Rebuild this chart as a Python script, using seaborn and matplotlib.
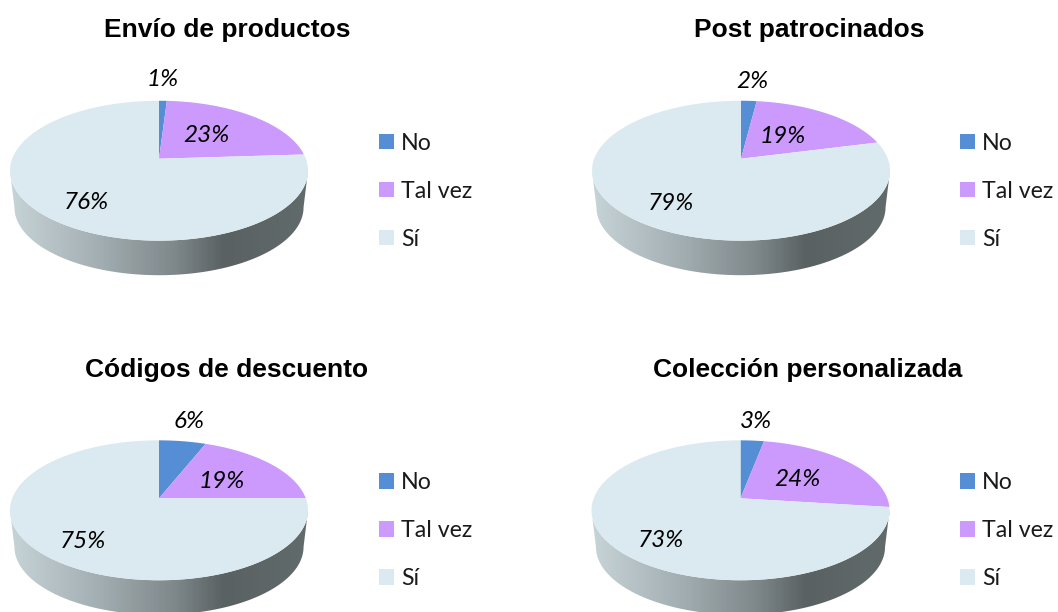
import numpy as np
import seaborn as sns
from matplotlib import pyplot as plt
from matplotlib.colors import LinearSegmentedColormap
from matplotlib.patches import Polygon
from matplotlib.transforms import Affine2D

FIG_W, FIG_H = 1058, 612

titles = ['Envío de productos', 'Post patrocinados',
          'Códigos de descuento', 'Colección personalizada']
categories = ['No', 'Tal vez', 'Sí']
envio = [1, 23, 76]
post = [2, 19, 79]
codigos = [6, 19, 75]
coleccion = [3, 24, 73]

colors = ['#558ed5', '#cc99fd', '#dbeaf0']

# layout in reference pixels
centers = [(159, 158.7), (741, 158.7), (159, 498.3), (740.5, 498.3)]
title_pos = [(227, 30), (809, 30), (227, 370), (808, 370)]
legend_x = [379, 960, 379, 960]
label_pos = [
    [(163, 80), (206, 135.5), (86, 202.5)],
    [(752, 81), (783, 136.5), (671, 203.5)],
    [(189, 422), (222, 481.5), (83, 541.5)],
    [(756, 422), (797, 479.5), (661, 540.5)],
]

# tilt of the pie: top radius 58px, bottom radius 82px, half width 149px
K = 0.1715
A = 67.9
B = 146.8

side_cmap = LinearSegmentedColormap.from_list(
    'side', [(0, '#c6d3d7'), (0.3, '#a3aeb2'), (0.55, '#7f888b'),
             (0.72, '#596162'), (1, '#626b6b')])


def project(x, y):
    d = 1 + K * y
    return B * x / d, A * y / d


def draw_side(ax):
    t = np.linspace(np.pi + np.arcsin(K), 2 * np.pi - np.arcsin(K), 200)
    px, py = project(np.cos(t), np.sin(t))
    top = np.column_stack([px, py])
    bottom = np.column_stack([px * 0.97, py * 0.97 - 37])
    clip = Polygon(np.vstack([top, bottom[::-1]]), closed=True,
                   transform=ax.transData, fill=False, edgecolor='none')
    ax.add_patch(clip)
    grad = np.linspace(0, 1, 300).reshape(1, -1)
    im = ax.imshow(grad, cmap=side_cmap, aspect='auto',
                   extent=(-149, 149, -125, 0), zorder=1)
    im.set_clip_path(clip)


def draw_pie(ax, values):
    wedges, _ = ax.pie(values, startangle=90, counterclock=False, colors=colors)
    faces = []
    for wedge, color in zip(wedges, colors):
        scaled = wedge.get_path().transformed(Affine2D().scale(500))
        pts = scaled.to_polygons(closed_only=False)[0] / 500
        wedge.set_visible(False)
        x, y = project(pts[:, 0], pts[:, 1])
        face = Polygon(np.column_stack([x, y]), closed=True, facecolor=color,
                       edgecolor='none', zorder=2)
        ax.add_patch(face)
        faces.append(face)
    return faces


def draw_chart(fig, values, title, center, tpos, lx, lpos):
    cx, cy = center
    left, right = cx - 165, cx + 320
    top, bottom = cy - 135, cy + 125
    ax = fig.add_axes([left / FIG_W, 1 - bottom / FIG_H,
                       (right - left) / FIG_W, (bottom - top) / FIG_H])
    faces = draw_pie(ax, values)
    draw_side(ax)
    ax.set_aspect('auto')
    ax.set_xlim(-165, 320)
    ax.set_ylim(-125, 135)
    ax.axis('off')

    ax.text(tpos[0] - cx, cy - tpos[1], title, ha='center', va='center',
            fontsize=19, fontweight='bold', family='Liberation Sans',
            color='black')
    for value, (x, y) in zip(values, lpos):
        ax.text(x - cx, cy - y, f'{value}%', ha='center', va='center',
                fontsize=17.5, style='italic', color='black', zorder=3)

    ax.legend(faces, categories, loc='upper left', frameon=False,
              bbox_to_anchor=(lx - cx, 26.2), bbox_transform=ax.transData,
              borderpad=0, borderaxespad=0, fontsize=16.7, labelcolor='#1a1a1a',
              handlelength=0.65, handleheight=0.65, handletextpad=0.3,
              labelspacing=1.17)


def main():
    sns.set_theme(style='white')
    plt.rcParams['font.family'] = ['Lato', 'DejaVu Sans']

    fig = plt.figure(figsize=(FIG_W / 100, FIG_H / 100), dpi=100)
    fig.patch.set_facecolor('white')
    series = [envio, post, codigos, coleccion]
    for i, values in enumerate(series):
        draw_chart(fig, values, titles[i], centers[i], title_pos[i],
                   legend_x[i], label_pos[i])
    fig.savefig('out.png', dpi=100)


if __name__ == '__main__':
    main()
